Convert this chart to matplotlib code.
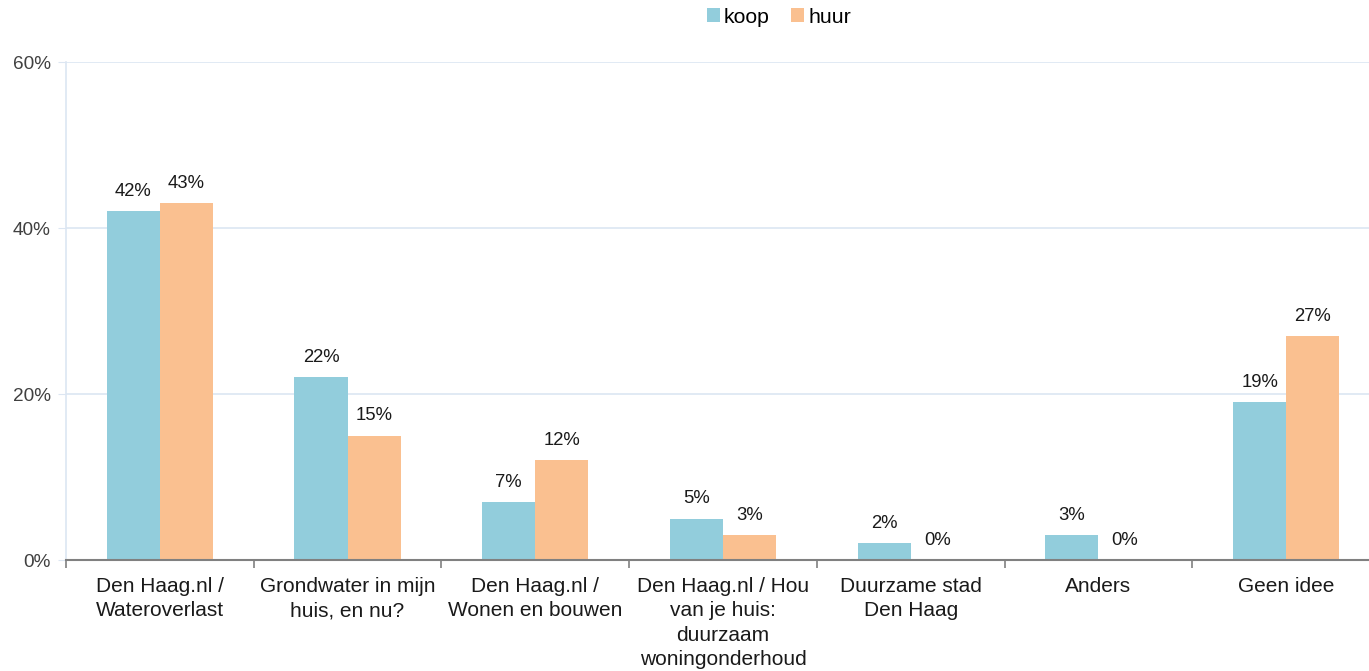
import numpy as np
import matplotlib.pyplot as plt
from matplotlib.ticker import FixedLocator, PercentFormatter

plt.rcParams['font.family'] = ['Liberation Sans', 'DejaVu Sans']

# data
categories = ['Den Haag.nl /\nWateroverlast', 'Grondwater in mijn\nhuis, en nu?',
              'Den Haag.nl /\nWonen en bouwen', 'Den Haag.nl / Hou\nvan je huis:\nduurzaam\nwoningonderhoud',
              'Duurzame stad\nDen Haag', 'Anders', 'Geen idee']
koop = [42, 22, 7, 5, 2, 3, 19]
huur = [43, 15, 12, 3, 0, 0, 27]
series_names = ['koop', 'huur']
colors = ['#92CDDC', '#FAC090']

fig = plt.figure(figsize=(13.69, 6.71), dpi=100)
# plot area runs a bit past the right edge of the figure, as in the original
ax = fig.add_axes([0.0482, 0.1654, 0.9599, 0.7422])

x = np.arange(len(categories))
w = 0.283
b1 = ax.bar(x - w / 2, koop, w, color=colors[0], label=series_names[0], zorder=3)
b2 = ax.bar(x + w / 2, huur, w, color=colors[1], label=series_names[1], zorder=3)

for bars, vals in [(b1, koop), (b2, huur)]:
    for rect, v in zip(bars, vals):
        ax.annotate(f'{v}%', (rect.get_x() + rect.get_width() / 2, v),
                    xytext=(0, 8), textcoords='offset points',
                    ha='center', va='bottom', fontsize=13.3, color='#1a1a1a')

ax.set_xlim(-0.5, len(categories) - 0.5)
ax.set_ylim(0, 60)
ax.set_yticks([0, 20, 40, 60])
ax.yaxis.set_major_formatter(PercentFormatter(decimals=0))
ax.grid(axis='y', color='#dce6f2', linewidth=1.2, zorder=0)

ax.set_xticks(x)
ax.set_xticklabels(categories, fontsize=15, color='#1a1a1a', linespacing=1.37, va='top')
ax.tick_params(axis='x', which='major', length=0, pad=12)
ax.xaxis.set_minor_locator(FixedLocator(np.arange(-0.5, len(categories), 1.0)))
ax.tick_params(axis='x', which='minor', length=6, color='#808080', width=1.2)
ax.tick_params(axis='y', length=6, color='#dce6f2', labelsize=13.7, labelcolor='#404040', pad=5)

for s in ['top', 'right']:
    ax.spines[s].set_visible(False)
ax.spines['left'].set_color('#dce6f2')
ax.spines['left'].set_linewidth(1.2)
ax.spines['bottom'].set_color('#808080')
ax.spines['bottom'].set_linewidth(1.5)
ax.spines['bottom'].set_zorder(4)

fig.legend(loc='upper center', bbox_to_anchor=(0.569, 1.017), ncol=2, frameon=False,
           fontsize=15.3, handlelength=0.6, handleheight=0.6, handletextpad=0.2,
           columnspacing=1.0)

fig.savefig('out.png', dpi=100)
